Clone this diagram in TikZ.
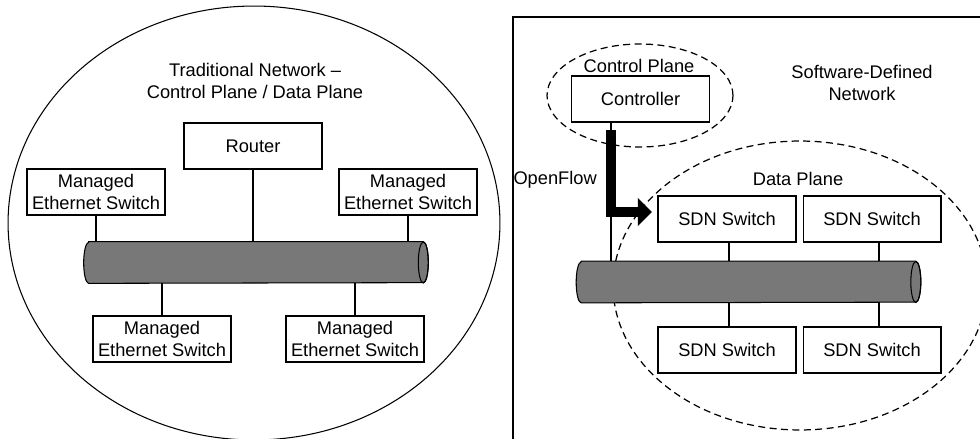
\documentclass[tikz,border=0pt]{standalone}
\usepackage{fontspec}
\setmainfont{Liberation Sans}
\usetikzlibrary{arrows.meta,positioning}
\definecolor{pipegray}{RGB}{120,120,120}

\begin{document}
\begin{tikzpicture}[x=0.02cm, y=-0.02cm, font=\fontsize{10.4}{12}\selectfont]
    \tikzset{
    box/.style={
        rectangle,
        draw,
        fill=white,
        line width=0.6pt,
        minimum width=2.76cm,
        minimum height=0.92cm,
        inner sep=1pt,
        align=center
    },
    bus/.style={
        rectangle,
        minimum width=6.68cm,
        minimum height=0.82cm
    },
    link/.style={line width=0.6pt},
    plane/.style={line width=0.7pt, dash pattern=on 4pt off 2.5pt},
    openflow/.style={
        -{Triangle[length=8pt,width=15.5pt]}, line width=5.2pt
    }
}
    \useasboundingbox (0,0) rectangle (980,439);

    % traditional network
    \draw[link] (254,223) ellipse (4.92cm and 4.34cm);
    \node[align=center] (tradtitle) at (255,81) {Traditional Network –\\Control Plane / Data Plane};
    \node[box] (router) at (253,146) {Router};
    \node[box] (mes1) at (96,192) {Managed\\Ethernet Switch};
    \node[box] (mes2) at (408,192) {Managed\\Ethernet Switch};
    \node[box] (mes3) at (162,339) {Managed\\Ethernet Switch};
    \node[box] (mes4) at (355,339) {Managed\\Ethernet Switch};
    \node[bus] (tradbus) at (256,262.5) {};

    % software-defined network
    \draw[link] (513,439) |- (980,17);
    \draw[plane] (640,95.5) ellipse (1.86cm and 1.03cm);
    \draw[plane] (800,285.5) ellipse (3.74cm and 2.89cm);
    \node (ctrltitle) at (639,66) {Control Plane};
    \node[box] (ctrl) at (640.5,99) {Controller};
    \node[align=center] (sdntitle) at (862,83) {Software-Defined\\Network};
    \node (datatitle) at (798,179) {Data Plane};
    \node[box] (sdn1) at (727,219) {SDN Switch};
    \node[box, right=0.12cm of sdn1] (sdn2) {SDN Switch};
    \node[box] (sdn3) at (727,350) {SDN Switch};
    \node[box, right=0.12cm of sdn3] (sdn4) {SDN Switch};
    \node[bus] (sdnbus) at (748.5,282) {};
    \node[anchor=east] (oflabel) at (603,180) {OpenFlow};

    % pipes
    \foreach \b in {tradbus,sdnbus} {
        \draw[link, fill=pipegray] (\b.north west) -- (\b.north east)
            arc (90:-90:0.1cm and 0.41cm) -- (\b.south west)
            arc (270:90:0.1cm and 0.41cm) -- cycle;
        \draw[link] (\b.east) ellipse (0.1cm and 0.41cm);
    }

    % links
    \foreach \n in {router,mes1,mes2}
        \draw[link] (\n.south) -- (\n.south |- tradbus.north);
    \foreach \n in {mes3,mes4}
        \draw[link] (\n.north) -- (\n.north |- tradbus.south);
    \coordinate (tapl) at (729,0);
    \coordinate (tapr) at (879,0);
    \coordinate (tapc) at (611,0);
    \draw[link] (tapl |- sdn1.south) -- (tapl |- sdnbus.north);
    \draw[link] (tapr |- sdn2.south) -- (tapr |- sdnbus.north);
    \draw[link] (tapl |- sdn3.north) -- (tapl |- sdnbus.south);
    \draw[link] (tapr |- sdn4.north) -- (tapr |- sdnbus.south);
    \draw[link] (tapc |- ctrl.south) -- (tapc |- sdnbus.north);

    % openflow arrow
    \coordinate (ofstart) at (611,130);
    \coordinate (oftip) at (652,212);
    \draw[openflow] (ofstart) |- (oftip);
\end{tikzpicture}
\end{document}
